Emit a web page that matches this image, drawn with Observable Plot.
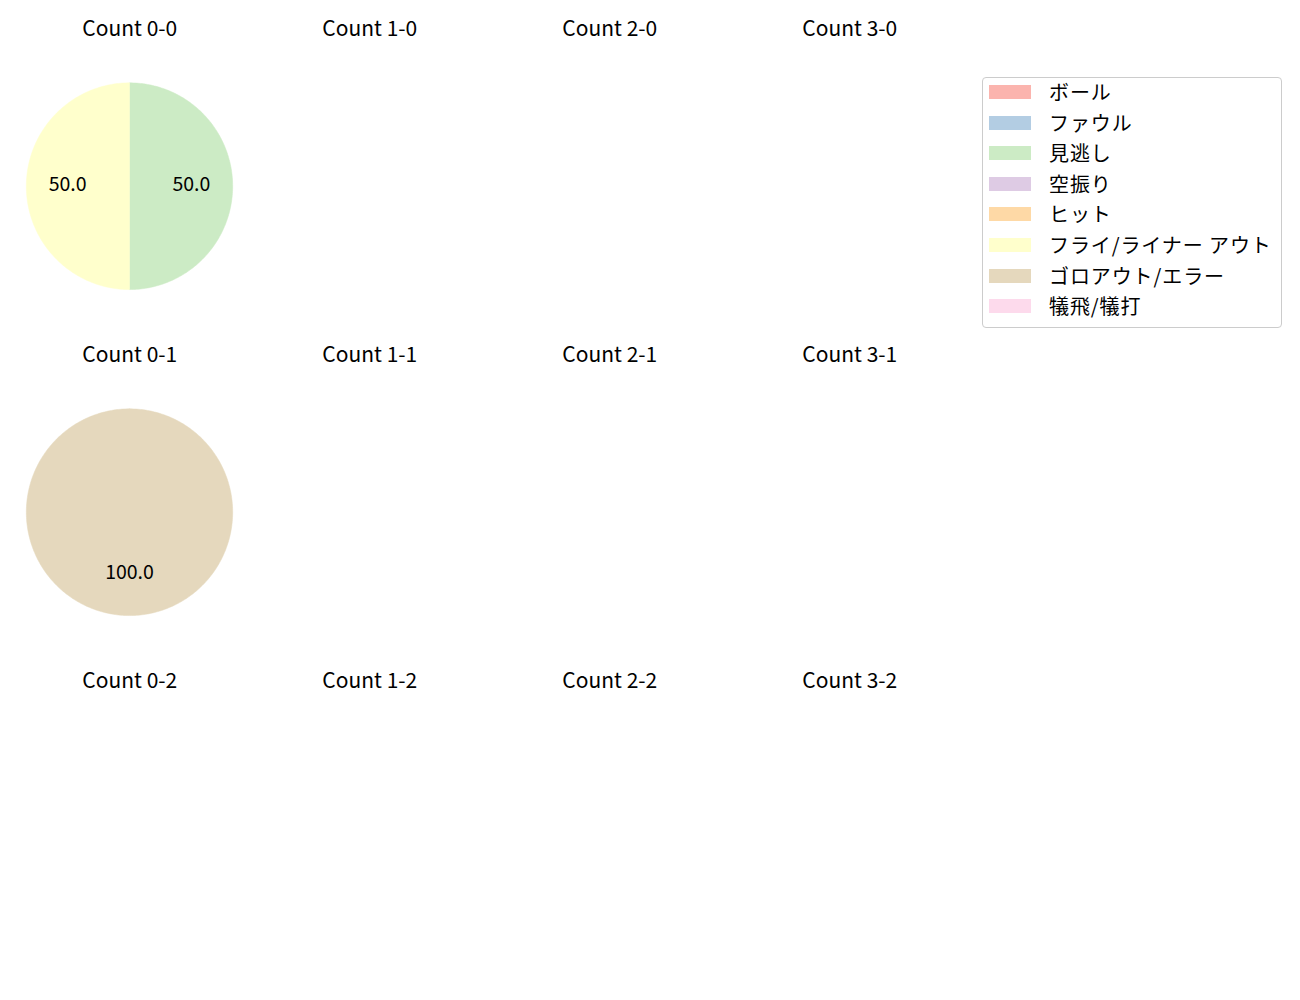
<!DOCTYPE html>
<html><head><meta charset="utf-8">
<script src="https://cdn.jsdelivr.net/npm/d3@7"></script>
<script src="https://cdn.jsdelivr.net/npm/@observablehq/plot@0.6"></script>
<style>
html,body{margin:0;padding:0;background:#fff;overflow:hidden}
#wrap{position:relative;width:1300px;height:1000px;font-family:"Noto Sans CJK JP",sans-serif}
#legend{position:absolute;left:982px;top:77px;width:300px;height:251px;border:1px solid #cccccc;border-radius:4px;box-sizing:border-box;background:#fff}
.row{position:absolute;left:6px;display:flex;align-items:center;height:22px}
.sw{width:42px;height:14px}
.lab{margin-left:18px;font-size:20px;letter-spacing:0.9px;color:#000;white-space:nowrap;line-height:22px}
</style></head><body><div id="wrap"></div>
<script>
// Categories and colours (legend order)
const categories = ["ボール","ファウル","見逃し","空振り","ヒット","フライ/ライナー アウト","ゴロアウト/エラー","犠飛/犠打"];
const colors = ["#fbb4ae","#b3cde3","#ccebc5","#decbe4","#fed9a6","#ffffcc","#e5d8bd","#fddaec"];
// Facets: balls (columns), strikes (rows)
const balls = [0,1,2,3];
const strikes = [0,1,2];
// Counts per category for the cells that have data
const count00 = [0,0,1,0,0,1,0,0];
const count01 = [0,0,0,0,0,0,1,0];
const cellCounts = [
  {b:0, s:0, values: count00},
  {b:0, s:1, values: count01}
];

// Build tables from the arrays
const cells = [];
for (const s of strikes) for (const b of balls) cells.push({b, s, label:`Count ${b}-${s}`});

const wedgePts = [];
const labels = [];
for (const cell of cellCounts) {
  const total = d3.sum(cell.values);
  if (!total) continue;
  let a0 = 90; // start at top, go clockwise
  cell.values.forEach((v, i) => {
    if (!v) return;
    const frac = v / total;
    const a1 = a0 - frac * 360;
    const id = `${cell.b}-${cell.s}-${i}`;
    const n = Math.max(2, Math.ceil(frac * 360));
    if (frac < 1) wedgePts.push({id, b:cell.b, s:cell.s, cat:categories[i], x:0, y:0});
    for (let k = 0; k <= n; k++) {
      const a = (a0 + (a1 - a0) * k / n) * Math.PI / 180;
      wedgePts.push({id, b:cell.b, s:cell.s, cat:categories[i], x:Math.cos(a), y:Math.sin(a)});
    }
    if (frac < 1) wedgePts.push({id, b:cell.b, s:cell.s, cat:categories[i], x:0, y:0});
    const am = ((a0 + a1) / 2) * Math.PI / 180;
    labels.push({b:cell.b, s:cell.s, x:0.6*Math.cos(am), y:0.6*Math.sin(am), text:(frac*100).toFixed(1)});
    a0 = a1;
  });
}

const chart = Plot.plot({
  width: 1300,
  height: 1000,
  marginLeft: 8.15,
  marginRight: 330.85,
  marginTop: 0,
  marginBottom: 20.5,
  style: {fontFamily: '"Noto Sans CJK JP", sans-serif', background: "transparent"},
  facet: {marginTop:0, marginRight:0, marginBottom:0, marginLeft:0},
  fx: {domain: balls, padding: 0, axis: null},
  fy: {domain: strikes, padding: 0, axis: null},
  x: {domain: [-1.163, 1.163], axis: null},
  y: {domain: [-1.367, 1.787], axis: null},
  color: {type: "ordinal", domain: categories, range: colors},
  marks: [
    Plot.line(wedgePts, {fx:"b", fy:"s", x:"x", y:"y", z:"id", fill:"cat", stroke:"cat", strokeWidth:0.5, curve:"linear"}),
    Plot.text(labels, {fx:"b", fy:"s", x:"x", y:"y", text:"text", fontSize:19.5, dy:-1, fill:"#000"}),
    Plot.text(cells, {fx:"b", fy:"s", text:"label", frameAnchor:"top", dy:20, dx:0.3, fontSize:21, letterSpacing:"0.6px", fill:"#000"})
  ]
});
const wrap = document.getElementById("wrap");
wrap.appendChild(chart);

const legend = document.createElement("div");
legend.id = "legend";
categories.forEach((c, i) => {
  const row = document.createElement("div");
  row.className = "row";
  row.style.top = (3 + i * 30.6) + "px";
  const sw = document.createElement("div");
  sw.className = "sw";
  sw.style.background = colors[i];
  const lab = document.createElement("span");
  lab.className = "lab";
  lab.textContent = c;
  row.appendChild(sw); row.appendChild(lab);
  legend.appendChild(row);
});
wrap.appendChild(legend);
</script>
</body></html>
